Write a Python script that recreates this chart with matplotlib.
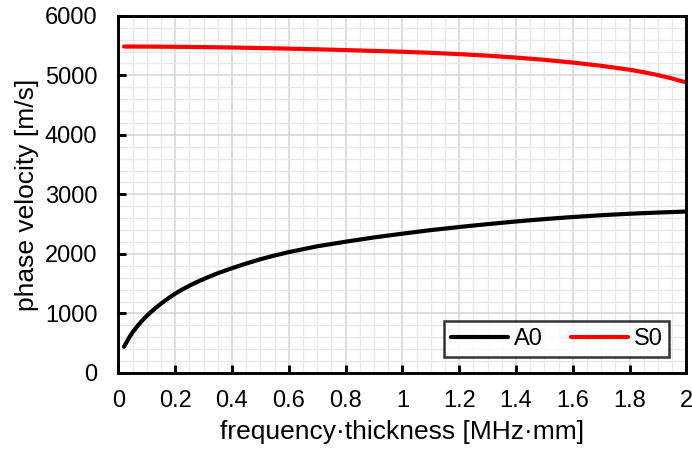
import numpy as np
import matplotlib
matplotlib.use("Agg")
import matplotlib.pyplot as plt
from matplotlib.ticker import MultipleLocator

plt.rcParams['font.family'] = ['Liberation Sans', 'DejaVu Sans']

# values
fd_a0 = [0.02, 0.04, 0.054, 0.07, 0.085, 0.1, 0.112, 0.13, 0.15, 0.171, 0.2, 0.229,
         0.26, 0.288, 0.32, 0.352, 0.4, 0.45, 0.5, 0.55, 0.6, 0.7, 0.8, 0.9, 1.0,
         1.1, 1.2, 1.3, 1.4, 1.5, 1.6, 1.7, 1.8, 1.9, 2.0]
a0 = [440, 610, 708, 804, 885, 958, 1012, 1087, 1164, 1238, 1333, 1413,
      1489, 1552, 1618, 1679, 1760, 1838, 1910, 1973, 2030, 2128, 2205, 2277, 2340,
      2400, 2452, 2500, 2545, 2585, 2620, 2650, 2675, 2695, 2712]

fd_s0 = [0.02, 0.1, 0.2, 0.3, 0.4, 0.5, 0.6, 0.7, 0.8, 0.9, 1.0, 1.1, 1.2, 1.3,
         1.4, 1.5, 1.6, 1.7, 1.8, 1.85, 1.9, 1.95, 2.0]
s0 = [5484, 5482, 5479, 5474, 5467, 5458, 5448, 5437, 5424, 5410, 5396, 5378, 5356, 5330,
      5298, 5260, 5214, 5160, 5094, 5052, 5004, 4946, 4880]

fig, ax = plt.subplots(figsize=(6.92, 4.51), dpi=100)
fig.subplots_adjust(left=0.171, right=0.992, top=0.965, bottom=0.173)

ax.plot(fd_a0, a0, color='black', lw=3, label='A0',
        solid_capstyle='round', solid_joinstyle='round')
ax.plot(fd_s0, s0, color='#ff0000', lw=3, label='S0',
        solid_capstyle='round', solid_joinstyle='round')

ax.set_xlim(0, 2)
ax.set_ylim(0, 6000)
ax.xaxis.set_minor_locator(MultipleLocator(0.05))
ax.yaxis.set_major_locator(MultipleLocator(1000))
ax.yaxis.set_minor_locator(MultipleLocator(200))
ax.set_xticks(np.arange(0, 2.01, 0.2))
ax.set_xticklabels(['0', '0.2', '0.4', '0.6', '0.8', '1', '1.2', '1.4', '1.6', '1.8', '2'])

ax.grid(which='major', color='#d4d4d4', lw=1.1)
ax.grid(which='minor', color='#e8e8e8', lw=1.0)
ax.set_axisbelow(True)

for s in ax.spines.values():
    s.set_linewidth(2.1)
    s.set_color('black')

ax.tick_params(which='major', direction='in', length=6, width=2.1, labelsize=17)
ax.tick_params(axis='x', pad=12)
ax.tick_params(axis='y', pad=15)
ax.tick_params(which='minor', length=0)

ax.set_xlabel('frequency\u00b7thickness [MHz\u00b7mm]', fontsize=19, labelpad=6)
ax.set_ylabel('phase velocity [m/s]', fontsize=19, labelpad=4)

leg = ax.legend(loc='lower right', ncol=2, fontsize=17, frameon=True, fancybox=False,
                edgecolor='black', handlelength=2.4, handletextpad=0.25,
                columnspacing=1.2, borderpad=0.3, borderaxespad=0,
                bbox_to_anchor=(0.970, 0.045))
leg.get_frame().set_linewidth(1.8)
for line in leg.get_lines():
    line.set_linewidth(3)

fig.savefig('out.png', dpi=100)
